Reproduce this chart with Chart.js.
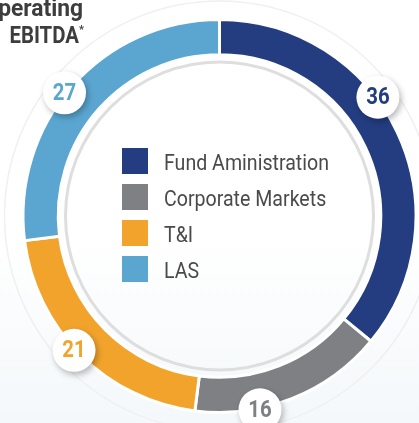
<!DOCTYPE html>
<html>
<head>
<meta charset="utf-8">
<script src="https://cdn.jsdelivr.net/npm/chart.js@4.4.0/dist/chart.umd.min.js"></script>
<style>
  html, body { margin: 0; padding: 0; }
  body { width: 419px; height: 423px; overflow: hidden;
         background: linear-gradient(to bottom, #ffffff 55%, #f4f8fa 100%); }
  #myChart { display: block; }
</style>
</head>
<body>
<canvas id="myChart" width="419" height="423"></canvas>
<script>
// datos del gráfico
var categorias = ["Fund Aministration", "Corporate Markets", "T&I", "LAS"];
var valores = [36, 16, 21, 27];
var titulo = ["perating", "EBITDA"];

// estilos
var colores = ["#233d80", "#7f8084", "#f2a32c", "#5aa6d1"];
var posEtiquetas = [0.41, 0.67, 0.53, 0.47]; // fracción del arco donde va cada burbuja
var fuente = '"Roboto", "Liberation Sans", sans-serif';

// texto angosto (la fuente original es condensada)
function textoAngosto(ctx, txt, x, y, escala) {
    ctx.save();
    ctx.translate(x, y);
    ctx.scale(escala, 1);
    ctx.fillText(txt, 0, 0);
    ctx.restore();
}

// círculos decorativos (interior gris y exterior tenue)
var circulos = {
    id: 'circulos',
    beforeDatasetsDraw: function(chart) {
        var arc = chart.getDatasetMeta(0).data[0];
        var ctx = chart.ctx;
        ctx.save();
        ctx.lineWidth = 3;
        ctx.strokeStyle = "#dedede";
        ctx.beginPath();
        ctx.arc(arc.x, arc.y, 154, 0, Math.PI * 2);
        ctx.stroke();
        ctx.lineWidth = 1.5;
        ctx.strokeStyle = "#f0f0f0";
        ctx.beginPath();
        ctx.arc(arc.x, arc.y, 215, 0, Math.PI * 2);
        ctx.stroke();
        ctx.restore();
    }
};

// burbujas blancas con el valor de cada segmento
var etiquetas = {
    id: 'etiquetas',
    afterDatasetsDraw: function(chart) {
        var ctx = chart.ctx;
        var meta = chart.getDatasetMeta(0);
        meta.data.forEach(function(arc, i) {
            var ang = arc.startAngle + posEtiquetas[i] * (arc.endAngle - arc.startAngle);
            var x = arc.x + 198 * Math.cos(ang);
            var y = arc.y + 198 * Math.sin(ang);
            ctx.save();
            ctx.shadowColor = "rgba(0,0,0,0.28)";
            ctx.shadowBlur = 6;
            ctx.shadowOffsetX = 2;
            ctx.shadowOffsetY = 3;
            ctx.fillStyle = "#ffffff";
            ctx.beginPath();
            ctx.arc(x, y, 21.5, 0, Math.PI * 2);
            ctx.fill();
            ctx.restore();
            ctx.save();
            ctx.fillStyle = colores[i];
            ctx.font = "bold 24px " + fuente;
            ctx.textAlign = "center";
            ctx.textBaseline = "middle";
            textoAngosto(ctx, String(chart.data.datasets[0].data[i]), x, y + 1, 0.85);
            ctx.restore();
        });
    }
};

// leyenda en el centro del anillo
var leyenda = {
    id: 'leyenda',
    afterDraw: function(chart) {
        var ctx = chart.ctx;
        var arc = chart.getDatasetMeta(0).data[0];
        var x0 = arc.x - 97.5;
        var y0 = arc.y - 68;
        ctx.save();
        chart.data.labels.forEach(function(lab, i) {
            var y = y0 + i * 36;
            ctx.fillStyle = colores[i];
            ctx.fillRect(x0, y, 26, 26);
            ctx.fillStyle = "#4a4a4a";
            ctx.font = "22px " + fuente;
            ctx.textAlign = "left";
            ctx.textBaseline = "alphabetic";
            textoAngosto(ctx, lab, x0 + 42, y + 22, 0.89);
        });
        ctx.restore();
    }
};

// título arriba a la izquierda (recortado)
var tituloPlugin = {
    id: 'tituloPlugin',
    afterDraw: function(chart) {
        var ctx = chart.ctx;
        ctx.save();
        ctx.fillStyle = "#3d3d3d";
        ctx.font = "bold 24px " + fuente;
        ctx.textAlign = "right";
        ctx.textBaseline = "alphabetic";
        textoAngosto(ctx, titulo[0], 83, 16, 0.95);
        textoAngosto(ctx, titulo[1], 79, 43, 0.85);
        ctx.font = "bold 11px " + fuente;
        ctx.textAlign = "left";
        ctx.fillText("*", 79, 33);
        ctx.restore();
    }
};

var ctx = document.getElementById("myChart");

var myChart = new Chart(ctx, {
    type: 'doughnut',
    data: {
        labels: categorias,
        datasets: [{
            data: valores,
            backgroundColor: colores,
            borderColor: "#ffffff",
            borderWidth: 3,
            hoverOffset: 0
        }]
    },
    options: {
        responsive: false,
        animation: false,
        radius: 196.5,
        cutout: 162.5,
        layout: { padding: { left: 20, right: 0, top: 9, bottom: 0 } },
        plugins: {
            legend: { display: false },
            tooltip: { enabled: false }
        }
    },
    plugins: [circulos, etiquetas, leyenda, tituloPlugin]
});
</script>
</body>
</html>
